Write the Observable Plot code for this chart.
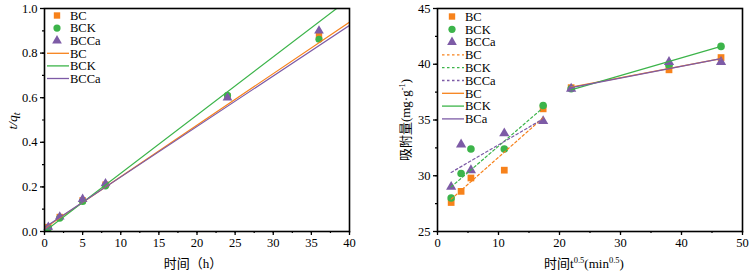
<!DOCTYPE html>
<html><head><meta charset="utf-8">
<script src="https://cdn.jsdelivr.net/npm/d3@7"></script>
<script src="https://cdn.jsdelivr.net/npm/@observablehq/plot@0.6"></script>
<style>
body{margin:0;background:#fff;width:750px;height:276px;overflow:hidden;position:relative}
#left,#right{position:absolute;top:0}
#left{left:0}#right{left:375px}
svg{font-family:"Liberation Serif","Noto Sans CJK SC",serif}
</style></head><body>
<div id="left"></div><div id="right"></div>
<script>
const series = ["BC", "BCK", "BCCa"];
const colors = ["#F7821B", "#3CB44A", "#7D5BA6"];
const symbols = ["square", "circle", "triangle"];

// Left panel: t/qt vs time (h)
const timeH = [0.5, 2, 5, 8, 24, 36];
const tqBC = [0.02, 0.065, 0.14, 0.21, 0.605, 0.88];
const tqBCK = [0.015, 0.06, 0.135, 0.205, 0.61, 0.862];
const tqBCCa = [0.02, 0.066, 0.145, 0.215, 0.60, 0.90];
const fitX = [0, 40];
const fitBC = [0.015, 0.939];
const fitBCK = [0.0, 1.044];
const fitBCCa = [0.018, 0.924];
const leftXTicks = [0, 5, 10, 15, 20, 25, 30, 35, 40];
const leftYTicks = [0.0, 0.2, 0.4, 0.6, 0.8, 1.0];

// Right panel: q vs t^0.5
const sqrtT = [2.24, 3.87, 5.48, 10.95, 17.32, 21.91, 37.95, 46.48];
const qBC = [27.6, 28.6, 29.8, 30.5, 36.0, 37.9, 39.5, 40.6];
const qBCK = [28.0, 30.2, 32.4, 32.4, 36.3, 37.8, 39.9, 41.6];
const qBCCa = [29.0, 32.8, 30.5, 33.8, 34.9, 37.8, 40.2, 40.2];
const stage1X = [2.24, 17.32];
const s1BC = [27.9, 35.2];
const s1BCK = [29.0, 36.1];
const s1BCCa = [30.3, 35.1];
const stage2X = [21.91, 46.48];
const s2BC = [37.95, 40.5];
const s2BCK = [37.7, 41.6];
const s2BCCa = [37.9, 40.5];
const rightXTicks = [0, 10, 20, 30, 40, 50];
const rightYTicks = [25, 30, 35, 40, 45];
const rightLegendNames = ["BC", "BCK", "BCCa", "BC", "BCK", "BCCa", "BC", "BCK", "BCa"];

const pts = (xs, ys, s) => xs.map((x, i) => ({x, y: ys[i], s}));
const minor = (a, b, step) => d3.range(a, b + 1e-9, step);

function axes(xT, yT, xMinor, yMinor, fmtY) {
  return [
    Plot.axisX(xT, {tickSize: 4, tickPadding: 3, strokeWidth: 1.3, fontSize: 12.5, label: null}),
    Plot.axisX(xMinor, {tickSize: 2, strokeWidth: 1.2, tickFormat: () => "", label: null}),
    Plot.axisY(yT, {tickSize: 4, tickPadding: 3, strokeWidth: 1.3, fontSize: 12.5, label: null, tickFormat: fmtY}),
    Plot.axisY(yMinor, {tickSize: 2, strokeWidth: 1.2, tickFormat: () => "", label: null}),
    Plot.frame({stroke: "#000", strokeWidth: 1.6})
  ];
}

// ---------- LEFT ----------
const leftPts = [...pts(timeH, tqBC, "BC"), ...pts(timeH, tqBCK, "BCK"), ...pts(timeH, tqBCCa, "BCCa")];
const leftFits = [...pts(fitX, fitBC, "BC"), ...pts(fitX, fitBCK, "BCK"), ...pts(fitX, fitBCCa, "BCCa")];
const left = Plot.plot({
  width: 375, height: 276,
  marginLeft: 44, marginRight: 26, marginTop: 8, marginBottom: 45,
  style: {fontFamily: "Liberation Serif", fontSize: "12.5px", color: "#000"},
  x: {domain: [0, 40]},
  y: {domain: [0, 1]},
  color: {domain: series, range: colors},
  symbol: {domain: series, range: symbols},
  marks: [
    ...series.map(s => Plot.dot(leftPts.filter(d => d.s === s), {x: "x", y: "y", fill: "s", symbol: "s", r: 3.6, stroke: "none"})),
    Plot.line(leftFits, {x: "x", y: "y", z: "s", stroke: "s", strokeWidth: 1.2, clip: true}),
    ...axes(leftXTicks, leftYTicks, minor(0, 40, 2.5), minor(0, 1, 0.1), d3.format(".1f"))
  ]
});
document.getElementById("left").appendChild(left);

// ---------- RIGHT ----------
const rightPts = [...pts(sqrtT, qBC, "BC"), ...pts(sqrtT, qBCK, "BCK"), ...pts(sqrtT, qBCCa, "BCCa")];
const s1 = [...pts(stage1X, s1BC, "BC"), ...pts(stage1X, s1BCK, "BCK"), ...pts(stage1X, s1BCCa, "BCCa")];
const s2 = [...pts(stage2X, s2BC, "BC"), ...pts(stage2X, s2BCK, "BCK"), ...pts(stage2X, s2BCCa, "BCCa")];
const right = Plot.plot({
  width: 375, height: 276,
  marginLeft: 62, marginRight: 8, marginTop: 8, marginBottom: 45,
  style: {fontFamily: "Liberation Serif", fontSize: "12.5px", color: "#000"},
  x: {domain: [0, 50]},
  y: {domain: [25, 45]},
  color: {domain: series, range: colors},
  symbol: {domain: series, range: symbols},
  marks: [
    ...series.map(s => Plot.dot(rightPts.filter(d => d.s === s), {x: "x", y: "y", fill: "s", symbol: "s", r: 3.8, stroke: "none"})),
    Plot.line(s1, {x: "x", y: "y", z: "s", stroke: "s", strokeWidth: 1.2, strokeDasharray: "2.5,2.5"}),
    Plot.line(s2, {x: "x", y: "y", z: "s", stroke: "s", strokeWidth: 1.2}),
    ...axes(rightXTicks, rightYTicks, minor(0, 50, 5), minor(25, 45, 2.5), d3.format("d"))
  ]
});
document.getElementById("right").appendChild(right);

// ---------- Labels & legends ----------
const symPath = (sym, r) => d3.symbol(sym === "square" ? d3.symbolSquare : sym === "circle" ? d3.symbolCircle : d3.symbolTriangle, Math.PI * r * r)();

function legend(svg, items, x0, y0, step) {
  const g = d3.select(svg).append("g").attr("font-family", "Liberation Serif").attr("font-size", 12.5).attr("text-anchor", "start");
  items.forEach((it, i) => {
    const y = y0 + i * step;
    if (it.kind === "sym") {
      g.append("path").attr("d", symPath(it.sym, 3.6)).attr("transform", `translate(${x0 + 10},${y})`).attr("fill", it.color);
    } else {
      g.append("line").attr("x1", x0).attr("x2", x0 + 22).attr("y1", y).attr("y2", y)
        .attr("stroke", it.color).attr("stroke-width", 1.3).attr("stroke-dasharray", it.kind === "dash" ? "2.5,2.5" : null);
    }
    g.append("text").attr("x", x0 + 23).attr("y", y).attr("dy", "0.35em").attr("text-anchor", "start").text(it.name);
  });
}

const leftItems = [
  ...series.map((s, i) => ({kind: "sym", sym: symbols[i], color: colors[i], name: s})),
  ...series.map((s, i) => ({kind: "line", color: colors[i], name: s}))
];
legend(left, leftItems, 47, 15.5, 12.6);

const rightItems = rightLegendNames.map((n, i) => ({
  kind: i < 3 ? "sym" : i < 6 ? "dash" : "line",
  sym: symbols[i % 3], color: colors[i % 3], name: n
}));
legend(right, rightItems, 67, 16.5, 12.8);

// axis titles
const L = d3.select(left);
L.append("text").attr("x", 193).attr("y", 268).attr("text-anchor", "middle")
  .attr("font-family", "Liberation Serif, Noto Sans CJK SC").attr("font-size", 13).text("时间（h）");
const ly = L.append("text").attr("transform", "translate(17,121) rotate(-90)").attr("text-anchor", "middle")
  .attr("font-family", "Liberation Serif").attr("font-size", 13.5).attr("font-style", "italic");
ly.append("tspan").text("t/q");
ly.append("tspan").attr("font-size", 10).attr("dy", 3).text("t");

const R = d3.select(right);
const rx = R.append("text").attr("x", 209).attr("y", 268).attr("text-anchor", "middle")
  .attr("font-family", "Liberation Serif, Noto Sans CJK SC").attr("font-size", 13);
rx.append("tspan").text("时间t");
rx.append("tspan").attr("font-size", 8.5).attr("dy", -5).text("0.5");
rx.append("tspan").attr("dy", 5).text("(min");
rx.append("tspan").attr("font-size", 8.5).attr("dy", -5).text("0.5");
rx.append("tspan").attr("dy", 5).text(")");
const ry = R.append("text").attr("transform", "translate(35,120) rotate(-90)").attr("text-anchor", "middle")
  .attr("font-family", "Liberation Serif, Noto Sans CJK SC").attr("font-size", 13);
ry.append("tspan").text("吸附量(mg·g");
ry.append("tspan").attr("font-size", 8.5).attr("dy", -5).text("-1");
ry.append("tspan").attr("dy", 5).text(")");
</script>
</body></html>
